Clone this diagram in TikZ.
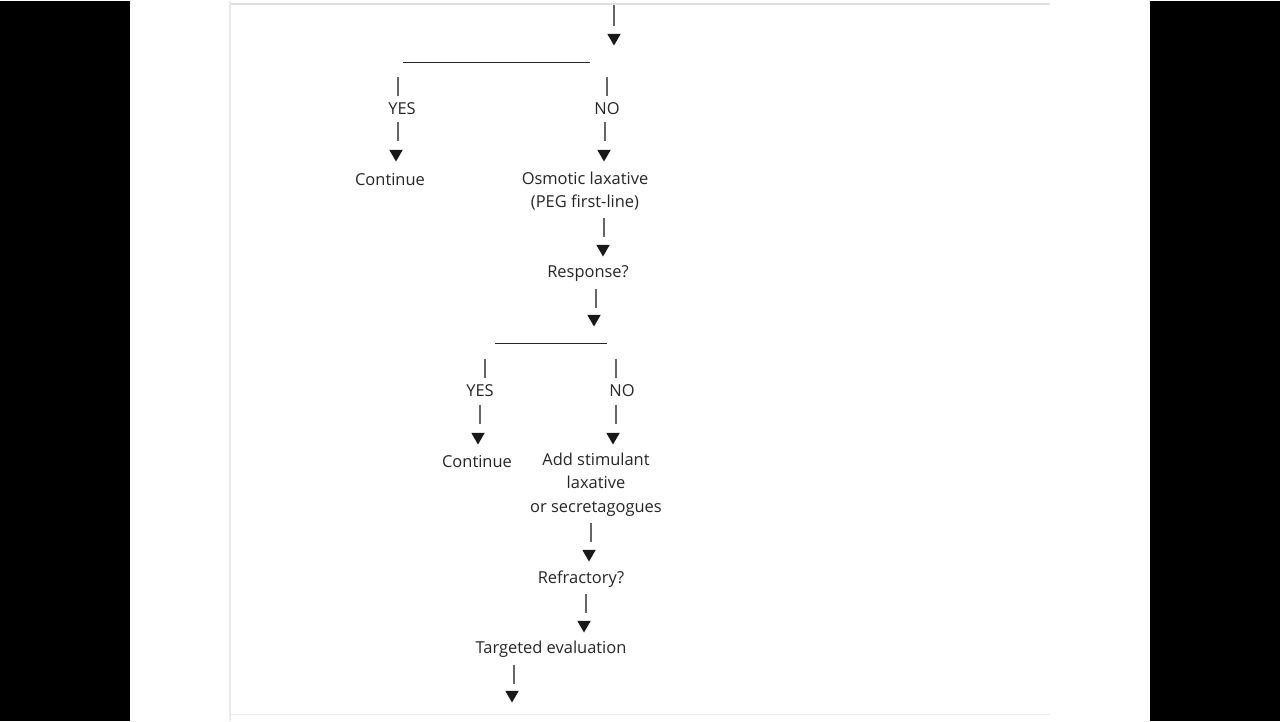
\documentclass[tikz,border=0pt]{standalone}
\usepackage{fontspec}
\setmainfont{Open Sans}
\usetikzlibrary{shapes.geometric}

\begin{document}
\begin{tikzpicture}[x=0.025cm, y=-0.025cm,
  every node/.style={font=\fontsize{11.7}{16.5}\selectfont, text=black!85, inner sep=0pt},
  lbl/.style={align=center},
  tip/.style={fill=black!90, regular polygon, regular polygon sides=3,
              shape border rotate=180, minimum size=0.39cm, inner sep=0pt},
  stem/.style={draw=black!60, line width=1pt},
  rule/.style={draw=black!85, line width=0.6pt}
]
% screen and panel
\fill[black] (0,0) rectangle (1280,720);
\fill[white] (130,0) rectangle (1150,720);
\draw[black!12, line width=1.2pt] (230,3) -- (1050,3);
\draw[black!8, line width=1pt] (230,0) -- (230,720);
\draw[black!8, line width=1pt] (230,714) -- (1050,714);

% stems
\foreach \x/\ya/\yb [count=\i] in {614/4/25, 398/76/95, 607/76/95, 398/121/140,
    605/121/140, 604/217/236, 596/288/307, 485/358/377, 616/358/377,
    480/404/423, 616/404/423, 591/522/541, 586/593/612, 514/664/683}
  \draw[stem] (\x,\ya) coordinate (sa\i) -- (\x,\yb) coordinate (sb\i);

% arrow heads
\foreach \x/\y/\n in {614/37/top, 396/153/yesa, 604/153/noa, 603/248/osm,
    594/318/resp, 478/436/yesb, 613/436/nob, 589/553/stim, 584/624/refr, 512/694/targ}
  \node[tip] (t-\n) at (\x,\y) {};

% split lines
\coordinate (ha) at (403,62);
\coordinate (hb) at (590,62);
\draw[rule] (ha) -- (hb);
\coordinate (hc) at (495,343);
\coordinate (hd) at (607,343);
\draw[rule] (hc) -- (hd);

% labels
\node (yes1) at (402,108) {YES};
\node (no1) at (607,108) {NO};
\node (cont1) at (390,179) {Continue};
\node[lbl] (osmo) at (585,190) {Osmotic laxative\\(PEG first-line)};
\node (resp) at (588,273) {Response?};
\node (yes2) at (480,390) {YES};
\node (no2) at (622,390) {NO};
\node (cont2) at (477,461) {Continue};
\node[lbl] (stim) at (596,484) {Add stimulant\\laxative\\or secretagogues};
\node (refr) at (581,578) {Refractory?};
\node (targ) at (551,649) {Targeted evaluation};
\end{tikzpicture}
\end{document}
